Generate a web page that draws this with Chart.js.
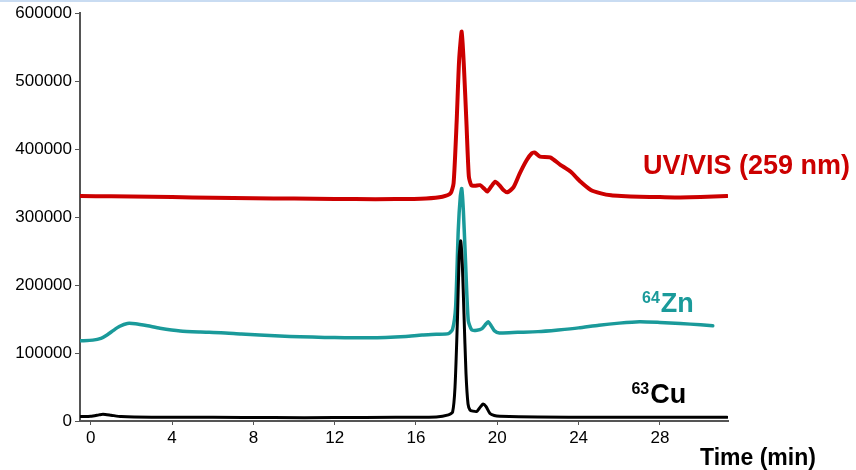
<!DOCTYPE html>
<html lang="en">
<head>
    <meta charset="UTF-8">
    <title>Chromatogram</title>
    <script src="https://cdn.jsdelivr.net/npm/chart.js"></script>
    <style>
        body { margin: 0; background: #fff; font-family: Arial, "Liberation Sans", sans-serif; }
        .wrap { position: relative; width: 856px; height: 470px; }
        .topline { position: absolute; left: 0; top: 0; width: 856px; height: 2px; background: #c9dcf2; }
    </style>
</head>
<body>
<div class="wrap">
    <div class="topline"></div>
    <canvas id="chrom" width="856" height="470"></canvas>
</div>
<script>
    // tick labels
    const xTicks = [0, 4, 8, 12, 16, 20, 24, 28];
    const yTicks = [0, 100000, 200000, 300000, 400000, 500000, 600000];

    // UV/VIS (259 nm)
    const uvTime = [-0.5, 1, 3, 5, 7, 9, 11, 13, 15, 16.5, 17.3, 17.7, 17.85, 18.0, 18.12, 18.25, 18.36, 18.48, 18.6, 18.72,
        18.9, 19.15, 19.35, 19.5, 19.7, 19.9, 20.1, 20.3, 20.5, 20.8, 21.1, 21.45, 21.7, 21.85, 22.1, 22.6, 23.1, 23.6,
        24.1, 24.6, 25.1, 25.6, 26.1, 27, 28, 29, 30, 31.3];
    const uvSignal = [331000, 330500, 330000, 329000, 328000, 327500, 327000, 326500, 326500, 327500, 330000, 335000, 350000,
        440000, 530000, 573000, 520000, 440000, 360000, 347000, 346000, 347000, 342000, 337500, 345000, 352000, 347000,
        340000, 336500, 344000, 364000, 384000, 394000, 395000, 389000, 388000, 377000, 367000, 352000, 340000, 335000,
        332000, 331000, 330000, 329500, 329000, 329500, 331000];

    // 64Zn
    const znTime = [-0.5, 0.1, 0.5, 0.8, 1.1, 1.4, 1.8, 2.2, 2.8, 3.4, 4.4, 5.4, 6.4, 7.4, 8.3, 9.3, 10.3, 11.5, 12.5, 13.5,
        14.5, 15.5, 16.3, 17.0, 17.6, 17.8, 17.95, 18.08, 18.18, 18.25, 18.33, 18.43, 18.57, 18.74, 19.0, 19.25, 19.45,
        19.56, 19.7, 19.85, 20.1, 21, 22, 23, 24, 25, 26, 27, 28, 29, 30, 30.6];
    const znSignal = [118000, 119000, 121500, 126500, 133000, 139000, 143500, 143000, 140000, 136500, 132500, 131000, 130000,
        128000, 126500, 125000, 124000, 123000, 122500, 122500, 123000, 124500, 126500, 127500, 128500, 135000, 168000,
        281000, 330000, 342000, 310000, 240000, 148000, 134000, 133500, 136000, 143000, 146000, 140000, 133000, 129500,
        130500, 131500, 134000, 137000, 141000, 144000, 146000, 145000, 143500, 141500, 140000];

    // 63Cu
    const cuTime = [-0.5, 0, 0.4, 0.6, 1.0, 1.5, 3, 6, 9, 12, 15, 17, 17.6, 17.8, 17.92, 18.04, 18.12, 18.2, 18.28, 18.36,
        18.46, 18.56, 18.66, 18.8, 18.99, 19.15, 19.3, 19.45, 19.64, 19.85, 20.13, 22, 25, 28, 31.3];
    const cuSignal = [6500, 7000, 9000, 10000, 8500, 6500, 5500, 5500, 5000, 5000, 5500, 6000, 9000, 13000, 50000, 150000,
        240000, 265000, 230000, 158000, 70000, 25000, 16000, 14500, 14000, 20000, 25000, 21000, 11000, 8000, 7000, 6000,
        5500, 5500, 5500];

    const RED = '#cc0000';
    const TEAL = '#1a9a9a';
    const FONT = 'Arial, "Liberation Sans", sans-serif';

    function pts(t, v) { return t.map((x, i) => ({ x: x, y: v[i] })); }

    // trace labels + axis title
    const labelPlugin = {
        id: 'traceLabels',
        afterDatasetsDraw(chart) {
            const ctx = chart.ctx;
            const xs = chart.scales.x, ys = chart.scales.y;
            ctx.save();
            ctx.textBaseline = 'alphabetic';
            ctx.textAlign = 'left';

            ctx.fillStyle = RED;
            ctx.font = 'bold 27px ' + FONT;
            ctx.fillText('UV/VIS (259 nm)', xs.getPixelForValue(27.17), ys.getPixelForValue(363000));

            function iso(mass, el, t, v, color) {
                const x = xs.getPixelForValue(t), y = ys.getPixelForValue(v);
                ctx.fillStyle = color;
                ctx.font = 'bold 16px ' + FONT;
                ctx.fillText(mass, x, y - 9);
                const w = ctx.measureText(mass).width;
                ctx.font = 'bold 27px ' + FONT;
                ctx.fillText(el, x + w + 1, y);
            }
            iso('64', 'Zn', 27.12, 160500, TEAL);
            iso('63', 'Cu', 26.6, 26500, '#000');

            ctx.fillStyle = '#000';
            ctx.font = 'bold 23px ' + FONT;
            ctx.fillText('Time (min)', chart.chartArea.right - 28, 465);
            ctx.restore();
        }
    };

    const axisCommon = {
        type: 'linear',
        border: { display: true, color: '#555', width: 2 },
        grid: { drawOnChartArea: false, drawTicks: true, color: '#555', lineWidth: 1 },
        ticks: { color: '#000', font: { family: FONT, size: 17 } }
    };

    new Chart(document.getElementById('chrom').getContext('2d'), {
        type: 'line',
        data: {
            datasets: [
                { label: '63Cu', data: pts(cuTime, cuSignal), borderColor: '#000', borderWidth: 3, order: 1 },
                { label: 'UV/VIS (259 nm)', data: pts(uvTime, uvSignal), borderColor: RED, borderWidth: 4, order: 2 },
                { label: '64Zn', data: pts(znTime, znSignal), borderColor: TEAL, borderWidth: 3.5, order: 3 }
            ]
        },
        options: {
            responsive: false,
            animation: false,
            elements: { point: { radius: 0 }, line: { tension: 0.2, borderJoinStyle: 'round', borderCapStyle: 'round' } },
            layout: { padding: { top: 13, right: 128, left: 0, bottom: 0 } },
            plugins: { legend: { display: false }, tooltip: { enabled: false } },
            scales: {
                x: Object.assign({}, axisCommon, {
                    min: -0.53, max: 31.35,
                    grid: Object.assign({}, axisCommon.grid, { tickLength: 4 }),
                    ticks: Object.assign({}, axisCommon.ticks, { padding: 3, maxRotation: 0 }),
                    afterBuildTicks(s) { s.ticks = xTicks.map(v => ({ value: v })); },
                    afterFit(s) { s.height = 49; }
                }),
                y: Object.assign({}, axisCommon, {
                    min: 0, max: 600000,
                    grid: Object.assign({}, axisCommon.grid, { tickLength: 5 }),
                    ticks: Object.assign({}, axisCommon.ticks, { padding: 3, callback: v => String(v) }),
                    afterBuildTicks(s) { s.ticks = yTicks.map(v => ({ value: v })); },
                    afterFit(s) { s.width = 80; }
                })
            }
        },
        plugins: [labelPlugin]
    });
</script>
</body>
</html>
